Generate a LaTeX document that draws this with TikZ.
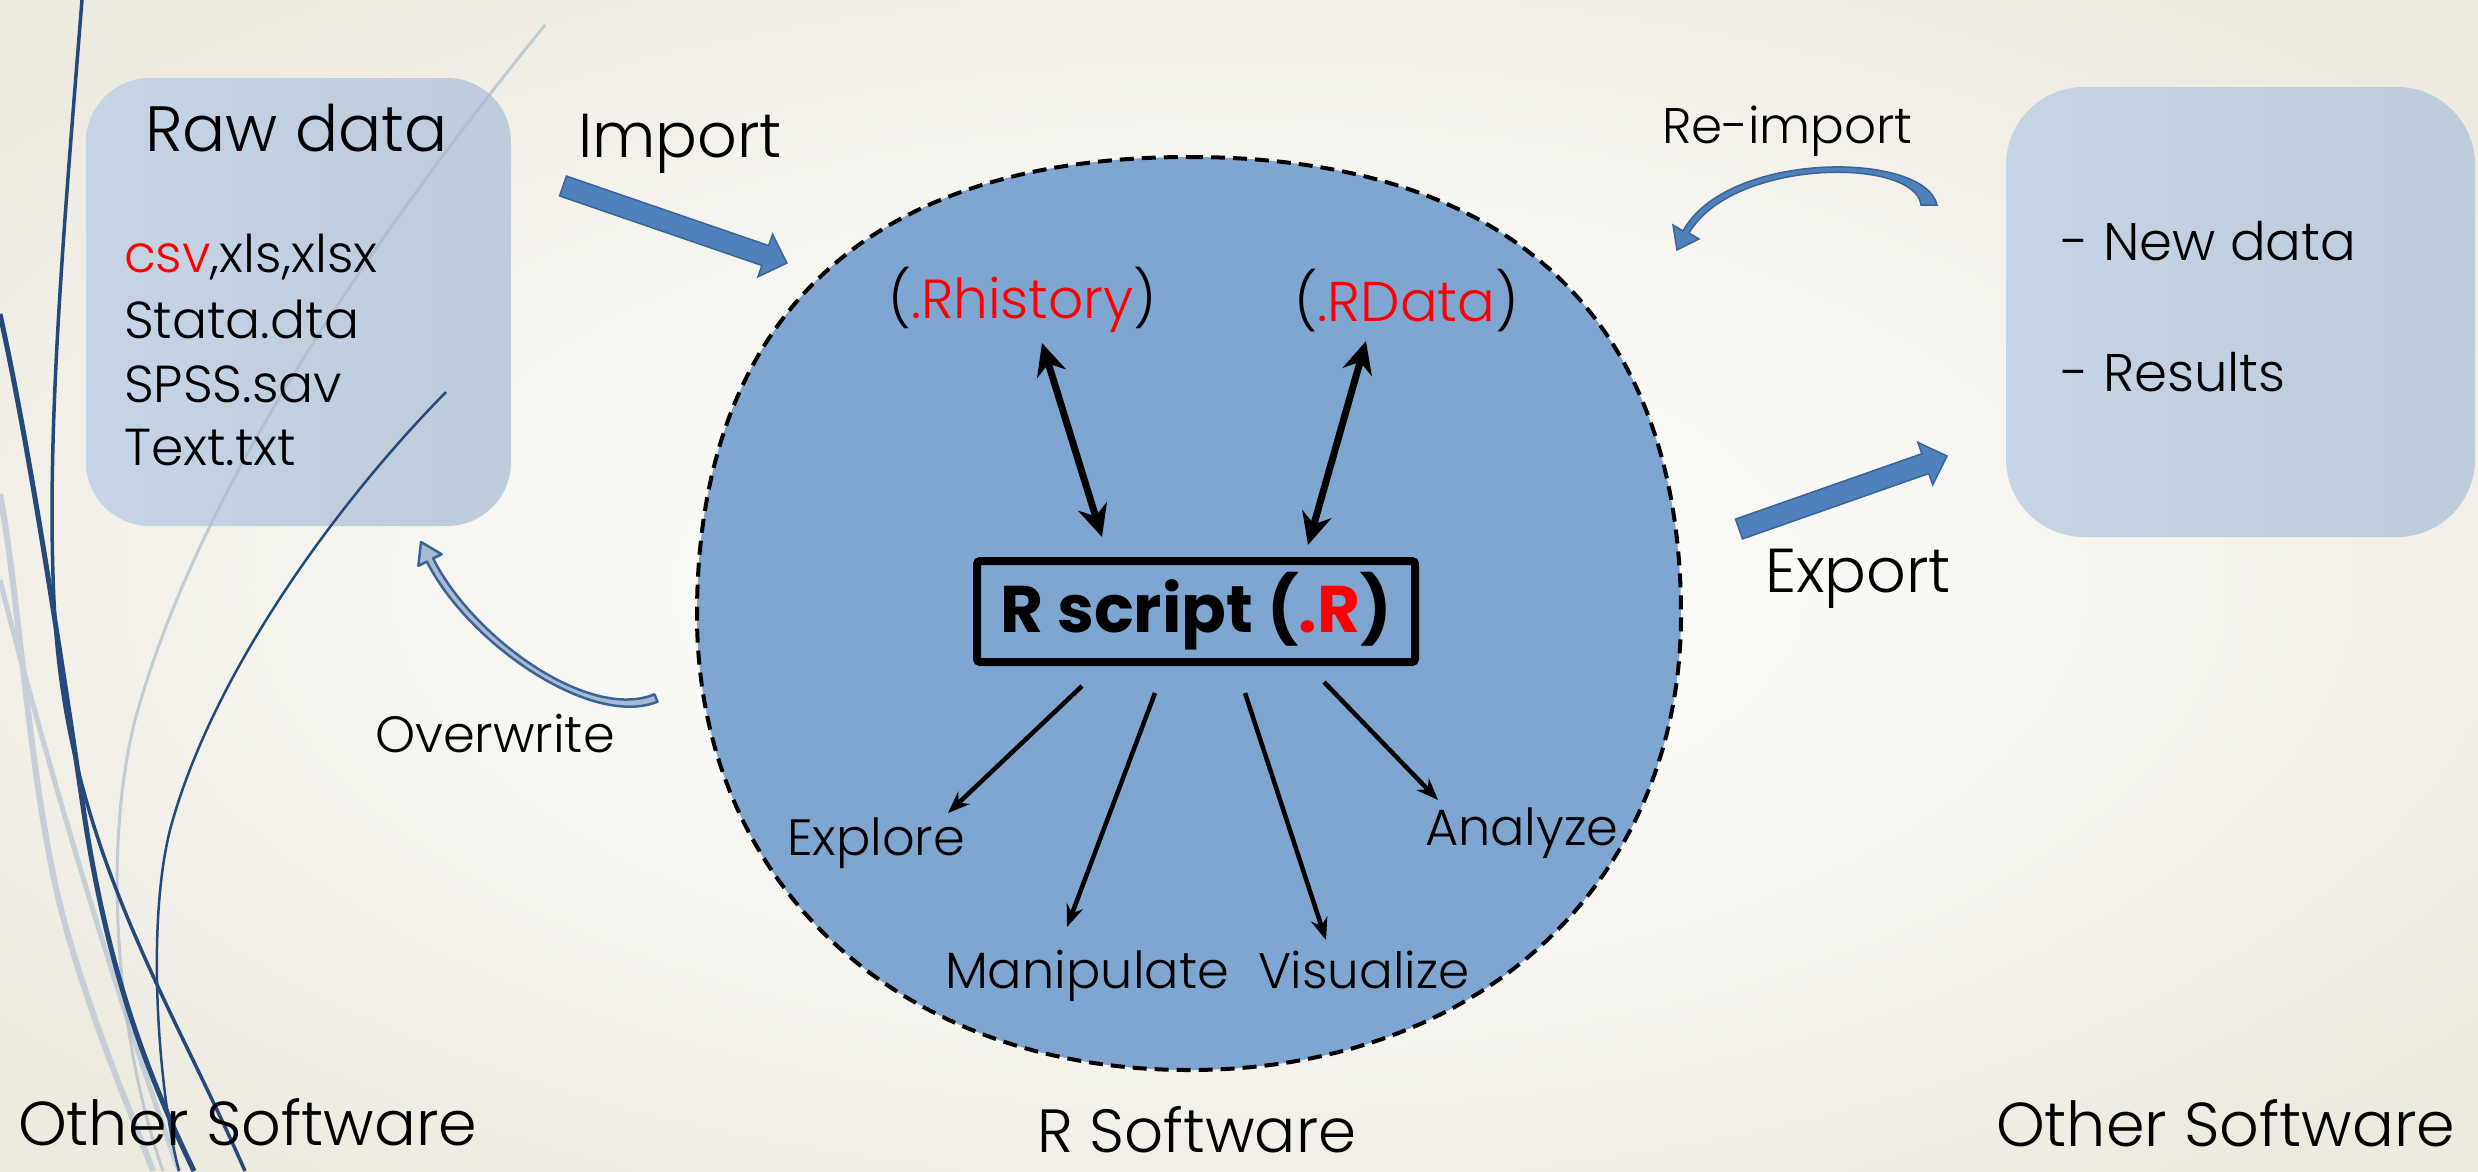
\documentclass[tikz,border=0pt]{standalone}
\usepackage{fontspec}
\setmainfont{Poppins}[UprightFont=* Light, BoldFont=* Bold]
\usetikzlibrary{shapes.geometric,arrows.meta,calc}
\definecolor{bgin}{HTML}{FBFBF9}
\definecolor{bgout}{HTML}{EDEADF}
\definecolor{boxl}{HTML}{C5D5E5}
\definecolor{boxr}{HTML}{BDCBDA}
\definecolor{circ}{HTML}{7FA6D0}
\definecolor{arrfill}{HTML}{4F81BD}
\definecolor{arrdraw}{HTML}{3A6496}
\definecolor{wispdark}{HTML}{24497A}
\definecolor{wispgrey}{HTML}{C6CED7}
\definecolor{rred}{HTML}{FF0000}
\definecolor{owfill}{HTML}{A8BBD4}
\newcommand\myfs[1]{\fontsize{#1}{#1}\selectfont}
\pgfdeclareradialshading{bgshade}{\pgfpoint{0bp}{0bp}}{color(0bp)=(bgin); color(8bp)=(bgin); color(32bp)=(bgout); color(50bp)=(bgout)}
\newcommand\blockarrow[2]{%
  \coordinate (#1b) at ($(#2)!23pt!(#1)$);
  \filldraw[blockarr] ($(#1)!10.5pt!90:(#2)$) -- ($(#1b)!10.5pt!90:(#2)$) -- ($(#1b)!22.5pt!90:(#2)$) -- (#2)
    -- ($(#1b)!22.5pt!-90:(#2)$) -- ($(#1b)!10.5pt!-90:(#2)$) -- ($(#1)!10.5pt!-90:(#2)$) -- cycle;}
\begin{document}
\begin{tikzpicture}[x=1pt,y=-1pt,
  lbl/.style={anchor=base west, inner sep=0pt, outer sep=0pt, text=black},
  softbox/.style={rounded corners=64pt, left color=boxl, right color=boxr, draw=none, inner sep=0pt},
  blockarr/.style={fill=arrfill, draw=arrdraw, line width=1.5pt, line join=miter},
  dbl/.style={line width=7pt, {Stealth[length=32pt,width=30pt]}-{Stealth[length=32pt,width=30pt]}},
  thin/.style={line width=4.5pt, -{Stealth[length=22pt,width=17pt]}},
  wispd/.style={draw=wispdark},
  wispg/.style={draw=wispgrey}]
\useasboundingbox (0,0) rectangle (2478,1171);
\shade[shading=bgshade] (0,0) rectangle (2478,1171);

% boxes
\node[softbox, minimum width=425pt, minimum height=448pt] (raw) at (298.5,302) {};
\node[softbox, rounded corners=78pt, minimum width=469pt, minimum height=450pt] (newbox) at (2240.5,312) {};

% R software region
\coordinate (rcenter) at (1189,615);
\draw[black, fill=circ, line width=4pt, dash pattern=on 14pt off 8pt]
  (1189,157) .. controls (1533,157) and (1681,340) .. (1681,615)
  .. controls (1681,879) and (1484,1070) .. (1189,1070)
  .. controls (894,1070) and (697,879) .. (697,615)
  .. controls (697,340) and (845,157) .. (1189,157) -- cycle;

% wisp decoration
\draw[wispg, line width=6pt] (0,494) .. controls (20,600) and (30,800) .. (66,928) .. controls (95,1030) and (130,1110) .. (153,1171);
\draw[wispg, line width=5pt] (0,580) .. controls (30,700) and (100,950) .. (179,1171);
\draw[draw=wispgrey!85!wispdark, line width=3pt, opacity=.7] (545,25) .. controls (330,290) and (190,520) .. (135,720) .. controls (100,860) and (120,1050) .. (163,1171);
\draw[wispd, line width=5pt] (0,314) .. controls (30,450) and (60,650) .. (85,820) .. controls (110,980) and (150,1080) .. (194,1171);
\draw[wispd, line width=3.5pt] (82,0) .. controls (62,250) and (45,450) .. (55,620) .. controls (70,850) and (170,1000) .. (245,1171);
\draw[wispd, line width=2.5pt] (446,392) .. controls (330,510) and (210,680) .. (170,830) .. controls (145,930) and (160,1100) .. (179,1171);

% raw data texts
\node[lbl, font=\myfs{64}] (rawtitle) at (145,151) {Raw data};
\node[lbl, font=\myfs{52}] (rawcsv) at (124,272) {{\color{rred}csv},xls,xlsx};
\node[lbl, font=\myfs{52}] (rawdta) at (124,338) {Stata.dta};
\node[lbl, font=\myfs{52}] (rawsav) at (124,402) {SPSS.sav};
\node[lbl, font=\myfs{52}] (rawtxt) at (124,465) {Text.txt};

% new data box texts
\node[lbl, font=\myfs{53}] (newdata) at (2061,260) {- New data};
\node[lbl, font=\myfs{53}] (results) at (2061,391) {- Results};

% import / export
\node[lbl, font=\myfs{62}] (import) at (578,157) {Import};
\node[lbl, font=\myfs{62}] (export) at (1765,592) {Export};
\coordinate (imps) at (563,186); \coordinate (impe) at (787,263);
\blockarrow{imps}{impe}
\coordinate (exps) at (1739,529); \coordinate (expe) at (1947,456);
\blockarrow{exps}{expe}

% re-import curved arrow
\node[lbl, font=\myfs{50}] (reimport) at (1662,143) {Re-import};
\filldraw[fill=arrfill, draw=arrdraw, line width=1.5pt]
  (1937,205) .. controls (1925,151) and (1727,150) .. (1683,231) -- (1673,225) -- (1677,250) -- (1699,239)
  -- (1689,233) .. controls (1733,158) and (1915,157) .. (1921,205) -- cycle;

% overwrite curved arrow
\node[lbl, font=\myfs{51}] (overwrite) at (375,752) {Overwrite};
\filldraw[fill=owfill, draw=arrdraw, line width=2.5pt, line join=round]
  (654.5,694.3) .. controls (589,721.5) and (472.5,637.5) .. (433.1,558.4) -- (441.6,554.2) -- (421,542)
  -- (418.4,565.8) -- (426.9,561.6) .. controls (467.5,642.5) and (591,728.5) .. (657.5,701.7) -- cycle;

% inside R region
\node[lbl, font=\myfs{55}] (rhist) at (888,318) {({\color{rred}.Rhistory})};
\node[lbl, font=\myfs{56}] (rdata) at (1294,321) {({\color{rred}.RData})};
\node[draw=black, line width=8pt, rounded corners=3pt, minimum width=438pt, minimum height=101pt,
      inner sep=0pt, font=\myfs{66}\bfseries] (rscript) at (1196,611.5) {R script ({\color{rred}.R})};

\coordinate (rhA) at (1042,343); \coordinate (rsA) at (1102,537);
\coordinate (rdA) at (1366,341); \coordinate (rsB) at (1308,545);
\draw[dbl] (rhA) -- (rsA);
\draw[dbl] (rdA) -- (rsB);

\node[lbl, font=\myfs{51}] (explore) at (787,855) {Explore};
\node[lbl, font=\myfs{51}] (analyze) at (1425,845) {Analyze};
\node[lbl, font=\myfs{51}] (manip) at (945,988) {Manipulate};
\node[lbl, font=\myfs{50}] (visual) at (1258,988) {Visualize};

\coordinate (o1) at (1082,686); \coordinate (e1) at (948,813);
\coordinate (o2) at (1155,693); \coordinate (e2) at (1067,927);
\coordinate (o3) at (1245,693); \coordinate (e3) at (1326,940);
\coordinate (o4) at (1324,682); \coordinate (e4) at (1438,800);
\draw[thin] (o1) -- (e1);
\draw[thin] (o2) -- (e2);
\draw[thin] (o3) -- (e3);
\draw[thin] (o4) -- (e4);

% bottom labels
\node[lbl, font=\myfs{62}] (otherL) at (18,1145) {Other Software};
\node[lbl, font=\myfs{61}] (rsoftlbl) at (1037,1152) {R Software};
\node[lbl, font=\myfs{62}] (otherR) at (1996,1146) {Other Software};
\end{tikzpicture}
\end{document}
